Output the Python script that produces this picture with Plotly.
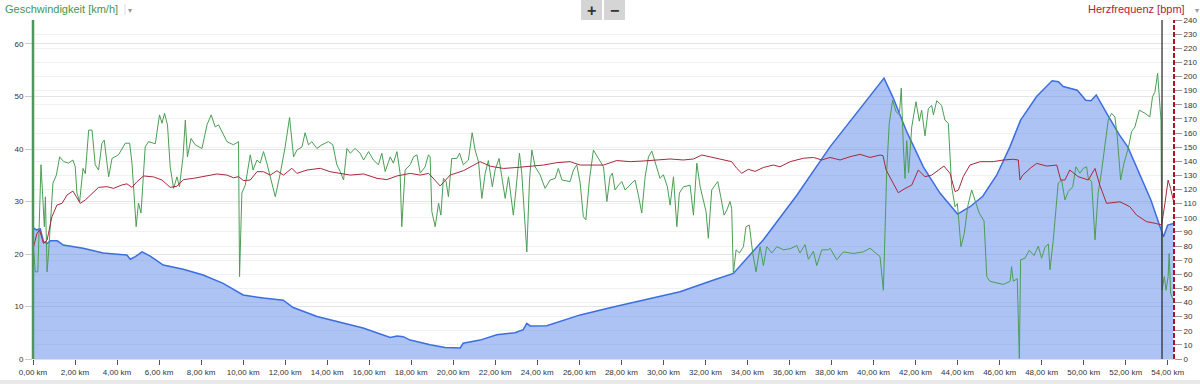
import plotly.graph_objects as go

# ---------------- data ----------------
# Geschwindigkeit [km/h]
speed_km = [0.03,0.11,0.23,0.38,0.54,0.59,0.67,0.74,0.95,1.11,1.27,1.46,1.69,1.90,2.01,2.09,2.22,2.38,2.49,2.65,
            2.81,2.96,3.12,3.28,3.39,3.60,3.76,4.07,4.39,4.60,4.71,4.91,5.02,5.14,5.34,5.50,5.82,6.02,6.14,6.26,
            6.40,6.53,6.69,6.85,6.97,7.14,7.25,7.35,7.52,7.72,8.04,8.28,8.48,8.67,8.83,9.23,9.54,9.78,9.83,9.94,
            10.10,10.34,10.47,10.66,10.81,10.97,11.13,11.29,11.53,11.77,12.00,12.21,12.32,12.40,12.56,12.80,12.95,13.11,13.27,13.51,
            13.75,14.06,14.27,14.46,14.62,14.78,14.94,15.10,15.33,15.57,15.73,15.97,16.20,16.44,16.60,16.76,17.00,17.15,17.32,17.47,
            17.55,17.71,17.95,18.11,18.27,18.43,18.66,18.82,18.90,18.98,19.14,19.30,19.41,19.53,19.66,19.77,19.93,20.17,20.30,20.48,
            20.72,20.90,21.04,21.20,21.36,21.52,21.67,21.86,21.99,22.18,22.31,22.47,22.63,22.86,22.99,23.15,23.26,23.50,23.63,23.74,
            23.90,24.13,24.37,24.61,24.85,25.00,25.17,25.56,25.72,25.88,26.04,26.19,26.31,26.48,26.67,26.91,27.15,27.31,27.46,27.57,
            27.70,27.86,28.02,28.18,28.42,28.65,28.81,28.97,29.13,29.29,29.45,29.61,29.84,30.00,30.19,30.32,30.48,30.64,30.76,30.95,
            31.27,31.43,31.59,31.75,31.87,32.03,32.14,32.30,32.46,32.59,32.73,32.89,33.02,33.17,33.25,33.33,33.46,33.62,33.81,33.93,
            34.09,34.25,34.41,34.60,34.76,34.92,35.16,35.40,35.71,36.03,36.35,36.50,36.74,36.90,37.14,37.30,37.54,37.85,37.93,38.25,
            38.56,39.04,39.51,39.83,40.31,40.47,40.63,40.75,40.91,41.07,41.23,41.32,41.42,41.50,41.58,41.67,41.82,42.02,42.18,42.29,
            42.45,42.61,42.77,42.85,43.01,43.24,43.40,43.56,43.72,43.88,43.99,44.16,44.32,44.48,44.67,44.83,45.03,45.26,45.39,45.54,
            45.86,46.18,46.50,46.57,46.65,46.84,46.94,47.00,47.21,47.41,47.64,47.84,48.00,48.16,48.32,48.40,48.55,48.68,48.79,48.95,
            49.11,49.27,49.48,49.63,49.82,49.98,50.14,50.22,50.38,50.54,50.69,50.86,51.01,51.17,51.33,51.49,51.60,51.76,51.92,52.12,
            52.28,52.44,52.65,52.92,53.15,53.28,53.39,53.52,53.68,53.73,53.84,53.92,54.02,54.07,54.14,54.26]
speed_val = [20.8,16.6,16.6,37.0,25.2,30.9,16.6,20.2,33.5,35.0,38.5,37.6,37.3,37.9,36.6,31.6,30.0,36.3,35.3,43.6,
             43.6,37.0,36.0,41.1,41.7,34.7,38.2,38.9,41.1,41.1,37.3,25.2,29.7,27.8,40.4,41.4,41.0,46.5,44.9,46.8,
             44.6,36.6,32.5,34.7,32.8,38.5,45.5,38.5,42.0,40.8,40.1,44.6,46.5,44.2,44.6,41.4,40.8,41.4,15.7,31.6,
             33.1,38.9,36.0,37.9,37.3,39.5,37.3,34.7,30.9,35.4,40.4,46.0,42.3,38.5,39.8,40.4,43.1,40.8,41.4,40.1,
             40.8,41.4,40.8,37.0,35.7,34.1,40.1,39.2,40.1,39.2,37.9,39.5,37.9,37.0,39.2,35.7,38.5,37.3,39.5,35.4,
             25.2,36.0,37.0,38.5,38.9,35.4,36.6,38.9,38.5,28.1,25.2,29.7,27.4,34.4,33.8,30.9,38.2,38.2,39.2,37.0,
             37.9,43.1,39.8,37.6,30.6,35.4,37.8,32.8,36.0,38.2,34.7,30.6,34.7,27.4,32.5,39.2,35.4,20.4,34.1,39.8,
             36.6,35.1,32.5,34.1,34.4,36.3,34.1,33.8,36.0,37.0,33.5,27.1,26.5,34.1,39.8,38.2,36.6,30.0,34.7,35.4,
             32.2,33.1,33.8,32.2,33.1,34.1,31.2,27.8,34.7,38.5,39.6,37.6,34.4,35.1,32.8,29.3,34.7,25.2,31.6,32.8,
             33.1,27.4,37.3,32.8,30.9,28.1,23.0,32.2,33.1,33.8,30.9,27.4,28.4,30.0,28.7,16.3,20.8,20.2,21.4,25.2,
             25.5,20.2,16.6,21.4,17.8,21.4,20.2,21.4,20.8,21.0,21.6,20.2,21.8,19.0,20.5,17.8,20.8,20.8,21.1,18.9,
             20.4,20.1,20.4,21.1,19.5,13.1,36.0,44.9,49.3,47.1,46.5,51.6,40.4,34.4,41.6,35.5,44.2,49.0,45.3,47.4,
             42.5,47.7,48.3,46.5,49.2,48.3,45.5,44.9,32.8,29.0,29.6,21.4,23.9,29.0,32.2,30.3,27.8,26.3,15.7,14.8,
             14.5,14.2,14.8,17.6,14.8,15.3,0.1,18.9,19.2,20.7,19.7,21.5,19.2,21.3,21.9,17.0,22.5,27.8,33.5,34.1,
             30.3,31.9,32.8,36.6,35.4,36.3,36.6,34.4,33.8,22.7,31.6,36.0,40.4,45.5,46.8,46.1,42.3,34.1,37.3,40.1,
             43.3,44.2,47.4,46.8,46.1,50.0,50.8,54.4,45.5,13.1,15.7,13.1,15.7,20.1,12.5,11.3]

# Herzfrequenz [bpm]
hr_km = [0.03,0.19,0.31,0.50,0.67,0.90,1.14,1.38,1.62,1.90,2.06,2.25,2.49,2.81,3.12,3.52,3.83,4.23,4.47,4.71,
         4.95,5.26,5.74,6.14,6.53,6.85,7.16,7.64,8.12,8.75,9.23,9.54,9.78,10.02,10.34,10.66,10.97,11.29,11.61,11.92,
         12.32,12.56,13.04,13.67,14.14,14.78,15.10,15.73,16.37,16.84,17.32,17.95,18.43,18.82,18.90,19.38,19.85,20.48,20.96,21.28,
         21.76,22.39,23.03,23.66,24.29,24.93,25.56,26.04,26.51,27.15,27.78,28.42,29.05,29.69,30.32,30.95,31.43,31.83,32.38,32.85,
         33.25,33.49,33.73,34.04,34.36,34.76,35.23,35.55,36.03,36.66,37.14,37.54,37.93,38.41,38.88,39.36,39.83,40.31,40.45,40.60,
         40.87,41.18,41.50,41.82,42.13,42.45,42.77,43.08,43.35,43.64,43.88,44.04,44.27,44.59,45.07,45.70,46.18,46.65,46.89,46.97,
         47.10,47.45,47.76,48.24,48.72,48.91,49.11,49.34,49.74,50.22,50.54,50.77,51.09,51.73,52.20,52.52,53.00,53.39,53.71,53.87,
         54.02,54.14,54.30]
hr_val = [79.5,89.0,91.3,81.9,84.2,100.7,109.0,110.2,116.1,118.9,114.9,110.2,112.6,117.3,121.5,122.0,120.8,123.2,124.0,121.5,
          125.5,129.6,128.9,126.7,121.5,122.3,127.0,127.9,129.1,131.0,130.2,128.3,129.1,126.3,126.7,132.6,132.6,130.2,133.3,130.2,
          135.0,131.4,133.8,135.0,132.6,130.7,130.2,131.0,127.9,127.0,129.6,131.4,130.2,131.4,130.3,122.5,130.2,133.3,137.3,139.7,
          136.5,134.9,135.6,136.5,137.3,139.0,139.7,137.3,137.3,137.3,140.5,139.7,140.2,140.9,141.6,140.9,141.6,144.4,142.7,141.2,
          139.7,135.0,131.5,134.3,132.8,135.6,137.3,136.1,139.7,142.1,142.7,140.9,142.7,140.9,143.2,144.9,142.7,144.4,144.0,133.8,
          126.7,117.7,120.7,123.1,133.8,129.1,130.2,133.8,136.6,131.4,118.5,119.6,129.1,137.3,139.7,139.7,140.9,141.4,140.9,126.7,
          130.2,134.9,138.5,136.6,137.3,126.7,126.7,133.8,129.1,126.7,134.9,123.1,110.2,111.3,107.8,101.9,97.2,96.1,94.9,110.2,
          126.7,120.7,110.2]

# Höhenprofil (relative height, hidden scale)
elev_km = [0.00,0.16,0.35,0.50,0.68,0.82,1.16,1.44,2.39,3.34,4.15,4.47,4.63,4.87,5.19,5.58,6.20,7.15,8.10,9.05,
           10.00,10.96,11.91,12.38,13.52,14.76,15.71,17.00,17.33,17.62,17.95,18.90,19.61,20.33,20.47,21.28,22.07,22.94,23.33,23.50,
           23.66,24.45,26.04,27.61,29.21,30.79,32.36,33.17,33.33,34.76,36.35,37.93,40.50,40.94,41.58,42.37,43.16,44.00,44.59,45.20,
           45.86,46.49,47.00,47.76,48.50,48.80,49.03,49.70,50.10,50.35,50.60,51.10,51.70,52.10,53.20,53.80,54.00,54.27]
elev_val = [25.0,24.6,24.8,22.3,22.0,22.5,22.5,21.7,21.1,20.2,19.9,19.8,19.0,19.5,20.4,19.6,17.9,17.1,16.0,14.4,
            12.2,11.6,11.2,9.8,8.1,6.9,5.9,4.1,4.4,4.25,3.6,2.7,2.2,2.1,3.0,3.6,4.6,5.0,5.6,6.8,
            6.3,6.35,8.4,9.9,11.4,12.8,15.0,16.2,16.3,22.7,31.2,40.4,53.5,49.7,43.3,36.6,31.6,27.6,29.0,31.0,
            35.0,40.4,45.5,50.0,53.0,52.8,51.9,51.2,49.3,49.2,50.3,46.8,42.7,40.4,30.3,23.3,25.5,25.8]

marker_km = 53.73          # position of the black cursor line
x_ticks = list(range(0, 56, 2))
x_ticktext = [f"{v:.2f}".replace(".", ",") + " km" for v in x_ticks]
speed_ticks = list(range(0, 61, 10))
hr_ticks = list(range(0, 241, 10))

# ---------------- figure ----------------
GREEN = "rgb(70,150,80)"
RED = "rgb(175,35,55)"
FONT = "Liberation Sans, Arial, sans-serif"

fig = go.Figure()
fig.add_trace(go.Scatter(x=elev_km, y=elev_val, yaxis="y", mode="lines",
                         line=dict(color="rgb(60,110,225)", width=1.5),
                         fill="tozeroy", fillcolor="rgba(95,140,232,0.52)",
                         hoverinfo="skip", showlegend=False))
fig.add_trace(go.Scatter(x=speed_km, y=speed_val, yaxis="y2", mode="lines",
                         line=dict(color="rgb(75,158,85)", width=1),
                         name="Geschwindigkeit", showlegend=False))
fig.add_trace(go.Scatter(x=hr_km, y=hr_val, yaxis="y3", mode="lines",
                         line=dict(color="rgb(170,40,62)", width=1),
                         name="Herzfrequenz", showlegend=False))

W, H = 1200, 384
L, R, T, B = 33, 26, 20, 25
pw, ph = W - L - R, H - T - B
def px(x):  # horizontal pixel -> paper
    return (x - L) / pw
def py(y):  # vertical pixel -> paper
    return (H - B - y) / ph

shapes = [
    dict(type="line", xref="paper", yref="paper", x0=0, x1=0, y0=0, y1=1,
         line=dict(color="rgb(80,150,90)", width=2.5)),
    dict(type="line", xref="paper", yref="paper", x0=1, x1=1, y0=0, y1=1,
         line=dict(color="rgb(170,20,40)", width=2, dash="5px,2px")),
    dict(type="line", xref="x", yref="paper", x0=marker_km, x1=marker_km, y0=0, y1=1,
         line=dict(color="#333", width=1.3)),
    dict(type="rect", xref="paper", yref="paper", x0=px(581), x1=px(602), y0=py(20), y1=py(0),
         fillcolor="#d5d5d5", line=dict(width=0), layer="above"),
    dict(type="rect", xref="paper", yref="paper", x0=px(604), x1=px(625), y0=py(20), y1=py(0),
         fillcolor="#d5d5d5", line=dict(width=0), layer="above"),
    dict(type="line", xref="paper", yref="paper", x0=px(125), x1=px(125), y0=py(15), y1=py(4),
         line=dict(color="#dddddd", width=1)),
    dict(type="rect", xref="paper", yref="paper", x0=px(0), x1=px(1200), y0=py(384), y1=py(380),
         fillcolor="#e9e9e9", line=dict(width=0)),
]

annotations = [
    dict(text="Geschwindigkeit [km/h]", xref="paper", yref="paper", x=px(3), y=py(9),
         xanchor="left", yanchor="middle", showarrow=False,
         font=dict(family=FONT, size=11, color=GREEN)),
    dict(text="▾", xref="paper", yref="paper", x=px(130), y=py(10),
         xanchor="center", yanchor="middle", showarrow=False,
         font=dict(family="DejaVu Sans", size=8, color="#999")),
    dict(text="Herzfrequenz [bpm]", xref="paper", yref="paper", x=px(1187), y=py(9),
         xanchor="right", yanchor="middle", showarrow=False,
         font=dict(family=FONT, size=11, color=RED)),
    dict(text="▾", xref="paper", yref="paper", x=px(1197), y=py(10),
         xanchor="center", yanchor="middle", showarrow=False,
         font=dict(family="DejaVu Sans", size=8, color="#999")),
    dict(text="<b>+</b>", xref="paper", yref="paper", x=px(591.5), y=py(10),
         xanchor="center", yanchor="middle", showarrow=False,
         font=dict(family=FONT, size=16, color="#333")),
    dict(text="<b>−</b>", xref="paper", yref="paper", x=px(614.5), y=py(10),
         xanchor="center", yanchor="middle", showarrow=False,
         font=dict(family=FONT, size=16, color="#333")),
]

fig.update_layout(
    width=W, height=H,
    margin=dict(l=L, r=R, t=T, b=B, pad=0, autoexpand=False),
    paper_bgcolor="white", plot_bgcolor="white",
    font=dict(family=FONT, size=8, color="#333"),
    showlegend=False,
    xaxis=dict(range=[0, 54.3], tickvals=x_ticks, ticktext=x_ticktext, automargin=False,
               ticks="outside", ticklen=5, tickcolor="#555", tickwidth=1,
               showgrid=False, zeroline=False, showline=True, linecolor="#e0e0e0",
               tickfont=dict(size=8, color="#333")),
    yaxis=dict(range=[0, 64.57], visible=False, showgrid=False, zeroline=False, fixedrange=True),
    yaxis2=dict(range=[0, 64.57], overlaying="y", side="left", tickvals=speed_ticks, automargin=False,
                ticks="outside", ticklen=7, tickcolor="#cccccc",
                showgrid=True, gridcolor="#e4e4e4", gridwidth=1, zeroline=False, showline=False,
                tickfont=dict(size=8, color="#333")),
    yaxis3=dict(range=[0, 240], overlaying="y", side="right", tickvals=hr_ticks, automargin=False,
                ticks="outside", ticklen=7, tickcolor="#9a9a9a",
                showgrid=True, gridcolor="#f1f1f1", gridwidth=1, zeroline=False, showline=False,
                tickfont=dict(size=8, color="#333")),
    shapes=shapes,
    annotations=annotations,
)

# remove the browser's default page margin so the 1200x384 figure fills the window exactly
fig.write_html("out.html",
               config={"displayModeBar": False},
               post_script="document.body.style.margin='0';document.body.style.overflow='hidden';")
